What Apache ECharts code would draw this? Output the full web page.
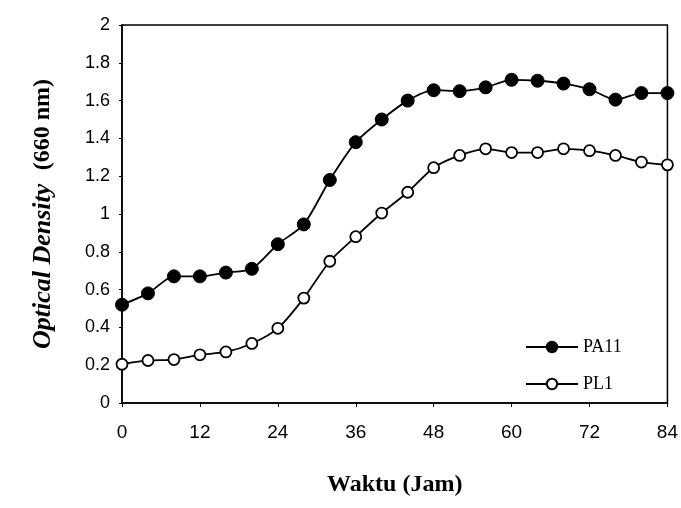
<!DOCTYPE html>
<html>
<head>
<meta charset="utf-8">
<script src="https://cdn.jsdelivr.net/npm/echarts@6/dist/echarts.min.js"></script>
<style>
  html, body { margin: 0; padding: 0; background: #fff; }
  #chart { width: 681px; height: 508px; }
</style>
</head>
<body>
<div id="chart"></div>
<script>
// waktu (jam) tiap 4 jam
var hours = [0, 4, 8, 12, 16, 20, 24, 28, 32, 36, 40, 44, 48, 52, 56, 60, 64, 68, 72, 76, 80, 84];
var pa11 = [0.52, 0.58, 0.67, 0.67, 0.69, 0.71, 0.84, 0.945, 1.18, 1.38, 1.50, 1.60, 1.655, 1.65, 1.67, 1.71, 1.705, 1.69, 1.66, 1.605, 1.64, 1.64];
var pl1 = [0.205, 0.225, 0.23, 0.255, 0.27, 0.315, 0.395, 0.555, 0.75, 0.88, 1.005, 1.115, 1.245, 1.31, 1.345, 1.325, 1.325, 1.345, 1.335, 1.31, 1.275, 1.26];
var seriesNames = ['PA11', 'PL1'];

function pairs(ys) {
  return hours.map(function (h, i) { return [h, ys[i]]; });
}

var chart = echarts.init(document.getElementById('chart'));
var option = {
  animation: false,
  backgroundColor: '#fff',
  grid: {
    left: 122, right: 10, top: 25, bottom: 105,
    show: true, borderColor: '#000', borderWidth: 1.5
  },
  legend: {
    orient: 'vertical',
    left: 520,
    top: 333,
    itemWidth: 52,
    itemHeight: 13,
    itemGap: 19,
    data: seriesNames,
    textStyle: { fontFamily: 'Liberation Serif', fontSize: 18, color: '#000' }
  },
  xAxis: {
    type: 'value',
    min: 0, max: 84, interval: 12,
    axisLine: { lineStyle: { color: '#000', width: 1.5 } },
    axisTick: { length: 4, lineStyle: { color: '#000' } },
    splitLine: { show: false },
    axisLabel: { color: '#000', fontFamily: 'Liberation Sans', fontSize: 19, margin: 20 },
    name: 'Waktu (Jam)',
    nameLocation: 'middle',
    nameGap: 70,
    nameTextStyle: { fontFamily: 'Liberation Serif', fontWeight: 'bold', fontSize: 24, color: '#000' }
  },
  yAxis: {
    type: 'value',
    min: 0, max: 2, interval: 0.2,
    axisLine: { show: true, lineStyle: { color: '#000', width: 1.5 } },
    axisTick: { show: true, length: 3, lineStyle: { color: '#000' } },
    splitLine: { show: false },
    axisLabel: { color: '#000', fontFamily: 'Liberation Sans', fontSize: 18, margin: 12 },
    name: '{i|Optical Density}    {b|(660 nm)}',
    nameLocation: 'middle',
    nameRotate: 90,
    nameGap: 66,
    nameTextStyle: {
      rich: {
        i: { fontFamily: 'Liberation Serif', fontStyle: 'italic', fontWeight: 'bold', fontSize: 26, color: '#000' },
        b: { fontFamily: 'Liberation Serif', fontWeight: 'bold', fontSize: 24, color: '#000' }
      }
    }
  },
  series: [
    {
      name: seriesNames[0],
      type: 'line',
      data: pairs(pa11),
      smooth: 0.25,
      symbol: 'circle',
      symbolSize: 13,
      lineStyle: { color: '#000', width: 1.8 },
      itemStyle: { color: '#000', borderColor: '#000', borderWidth: 1 }
    },
    {
      name: seriesNames[1],
      type: 'line',
      data: pairs(pl1),
      smooth: 0.25,
      symbol: 'circle',
      symbolSize: 11,
      lineStyle: { color: '#000', width: 1.8 },
      itemStyle: { color: '#fff', borderColor: '#000', borderWidth: 1.8 }
    }
  ]
};
chart.setOption(option);
</script>
</body>
</html>
